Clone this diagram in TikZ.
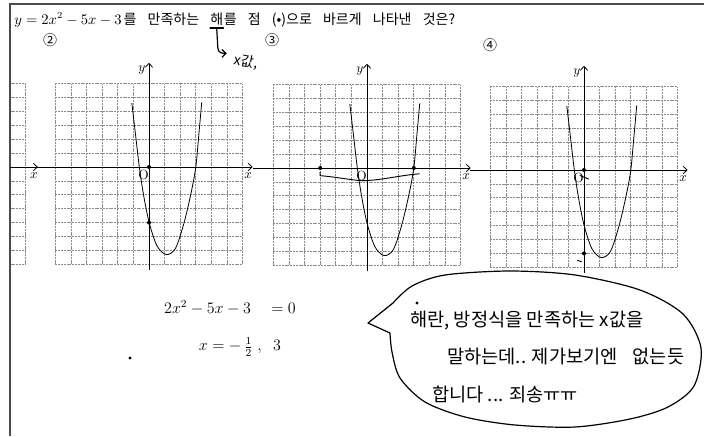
\documentclass[tikz,border=0pt]{standalone}
\usepackage{fontspec}
\newfontfamily\kr{Noto Sans CJK KR}
\usetikzlibrary{positioning}
\usetikzlibrary{arrows.meta}
\tikzset{qtext/.style={font=\kr\fontsize{10.5}{12}\selectfont, inner sep=0pt}}
\tikzset{handtext/.style={font=\kr\fontsize{14}{16}\selectfont, inner sep=0pt}}
\tikzset{handmath/.style={font=\large, inner sep=0pt}}
\tikzset{gridline/.style={draw=black!45, line width=0.5pt, dash pattern=on 1.5pt off 0.6pt}}
\tikzset{axisline/.style={line width=0.6pt, -{Straight Barb[length=3pt,width=5.5pt]}}}
\tikzset{penline/.style={line width=0.9pt, line cap=round, line join=round}}
\tikzset{panel/.style 2 args={shift={(#1,#2)}, x=11.7pt, y=10.425pt}}

\begin{document}
\begin{tikzpicture}[x=0.75pt, y=-0.75pt]
\useasboundingbox (0,0) rectangle (704,436);
% frame of the page
\draw[line width=1.1pt, black!70] (10,436) -- (10,4) -- (704,4);

% question
\node[qtext, anchor=base west] (q0) at (14,24) {$y=2x^2-5x-3$};
\node[qtext, base right=1pt of q0] (q1) {를};
\node[qtext, base right=8pt of q1] (q2) {만족하는};
\node[qtext, base right=8pt of q2] (q3) {해};
\node[qtext, base right=0pt of q3] (q4) {를};
\node[qtext, base right=8pt of q4] (q5) {점};
\node[qtext, base right=8pt of q5] (q6) {(•)으로};
\node[qtext, base right=8pt of q6] (q7) {바르게};
\node[qtext, base right=8pt of q7] (q8) {나타낸};
\node[qtext, base right=8pt of q8] (q9) {것은?};

\node[qtext] (n2) at (50,40) {②};
\node[qtext] (n3) at (272,40) {③};
\node[qtext] (n4) at (490,45) {④};

% grids
\foreach \ox/\oy/\n in {149/167/2, 367/168/3, 584/170/4} {
\begin{scope}[panel={\ox}{\oy}]
  \foreach \i in {-6,...,6} \draw[gridline] (\i,-7) -- (\i,6);
  \foreach \j in {-7,...,6} \draw[gridline] (-6,\j) -- (6,\j);
  \draw[axisline] (-7.3,0) -- (6.65,0);
  \draw[axisline] (0,-7.4) -- (0,7.5);
  \node (y\n) at (-0.45,7.0) {$y$};
  \node (x\n) at (6.35,-0.6) {$x$};
  \node (o\n) at (-0.35,-0.6) {O};
  \draw[line width=0.6pt] plot[smooth] coordinates {(-1.1,4.6) (-0.85,2.2) (-0.62,0) (-0.35,-2.0) (0,-3.95) (0.5,-5.65) (1.1,-6.3) (1.7,-5.85) (2.25,-4.0) (2.7,-1.85) (3.0,0) (3.2,2.4) (3.38,4.65)};
\end{scope}
}

% cut panel on the left
\begin{scope}
  \clip (10,60) rectangle (60,280);
  \begin{scope}[panel={-68.6}{167}]
    \foreach \i in {5,6} \draw[gridline] (\i,-7) -- (\i,6);
    \foreach \j in {-7,...,6} \draw[gridline] (4,\j) -- (6,\j);
    \draw[axisline] (2,0) -- (6.83,0);
  \end{scope}
\end{scope}
\node (x1) at (34,176) {$x$};

% points
\begin{scope}[panel={149}{167}]
  \fill (0,0) circle (1.5pt) (0,-4) circle (1.5pt);
\end{scope}
\begin{scope}[panel={367}{168}]
  \fill (-3,0) circle (1.5pt) (3,0) circle (1.5pt);
  \draw[penline, line width=0.7pt] (-3,-0.3) -- (-3,-0.55) .. controls (-1.5,-0.7) and (-0.8,-0.95) .. (0,-0.9) .. controls (1,-0.85) and (2.3,-0.5) .. (3.35,-0.42);
\end{scope}
\begin{scope}[panel={584}{170}]
  \fill (0,0) circle (1.5pt) (0,-6) circle (1.5pt);
  \draw[penline, line width=0.7pt] (-0.25,-0.4) -- (0.3,-0.65);
  \draw[penline, line width=0.7pt] (-0.42,-6.5) -- (-0.15,-6.6);
\end{scope}

% pen notes
\draw[penline] ([yshift=-2pt]q3.south west) -- ([yshift=-2pt]q3.south east);
\draw[penline, -{Straight Barb[length=3pt,width=6pt]}] ([yshift=-3pt]q3.south) -- ++(1,18) .. controls +(0,6) and +(-4,0) .. ++(9,6);
\node[handtext, anchor=west, rotate=-10, font=\kr\fontsize{10.5}{12}\selectfont] (xval) at ([xshift=13pt,yshift=-26pt]q3.south) {x값,};

\node[handmath] (eq1) at (230,308) {$2x^2-5x-3\quad=0$};
\node[handmath] (eq2) at (240,347) {$x=-\,\frac{1}{2}\;,\;\;3$};
\fill (130,358) circle (1.2pt);

% speech bubble
\draw[penline] (368,323) -- plot[smooth] coordinates {(393,303) (412,286) (445,275) (510,271) (575,275) (640,290) (683,314) (701,348) (694,386) (668,407) (630,419) (575,427) (515,425) (465,417) (425,402) (400,378) (392,352) (390,333)} -- cycle;
\fill (417,303) circle (1.2pt);
\node[handtext, anchor=west] (b1) at (410,321) {해란, 방정식을 만족하는 x값을};
\node[handtext, anchor=west] (b2) at (447,357) {말하는데.. 제가보기엔\hspace{0.8em}없는듯};
\node[handtext, anchor=west] (b3) at (432,394) {합니다 ... 죄송ㅠㅠ};
\end{tikzpicture}
\end{document}
